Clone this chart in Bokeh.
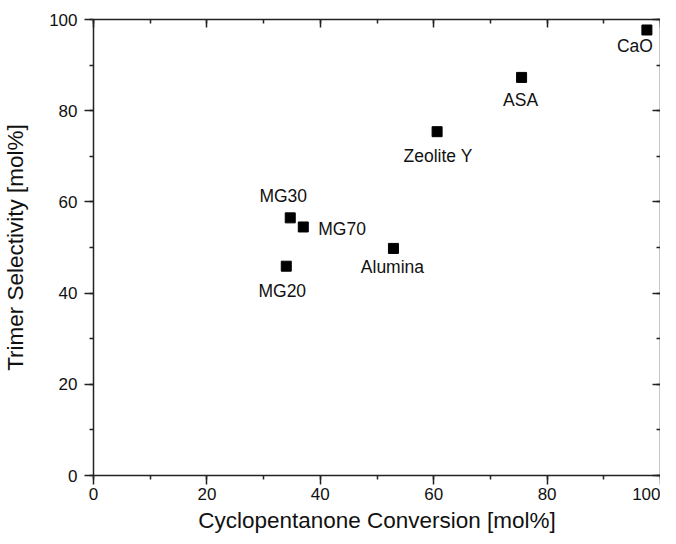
from bokeh.plotting import figure
from bokeh.models import ColumnDataSource, Range1d, LinearAxis, SingleIntervalTicker
from bokeh.core.properties import value
from bokeh.embed import file_html
from bokeh.resources import INLINE

catalysts = ["CaO", "ASA", "Zeolite Y", "MG30", "MG70", "Alumina", "MG20"]
conversion = [97.6, 75.5, 60.6, 34.7, 37.0, 52.9, 34.0]
selectivity = [97.7, 87.3, 75.4, 56.5, 54.5, 49.8, 45.9]

# label placement (screen pixel offsets relative to each point)
label_dx = [-12, -1, 1, -7, 15, -1, -4]
label_dy = [16, 23, 24, -22, 2, 19, 25]
label_align = ["center", "center", "center", "center", "left", "center", "center"]

FONT = "Liberation Sans"

p = figure(width=660, height=535, output_backend="svg", toolbar_location=None,
           x_range=Range1d(0, 100), y_range=Range1d(0, 100),
           x_axis_label="Cyclopentanone Conversion [mol%]",
           y_axis_label="Trimer Selectivity [mol%]",
           min_border_left=0, min_border_right=0, min_border_bottom=0, min_border_top=19)
p.outline_line_color = None
p.xgrid.visible = False
p.ygrid.visible = False
p.background_fill_color = "white"
p.border_fill_color = "white"

def style_axis(ax, labels=True):
    ax.ticker = SingleIntervalTicker(interval=20, num_minor_ticks=2)
    ax.axis_line_color = "#222222"
    ax.axis_line_width = 1.5
    ax.major_tick_line_color = "#222222"
    ax.minor_tick_line_color = "#222222"
    ax.major_tick_line_width = 1.5
    ax.minor_tick_line_width = 1.5
    ax.major_label_text_font = FONT
    ax.major_label_text_font_size = "17px"
    ax.major_label_text_color = "#111111"
    ax.axis_label_text_font = FONT
    ax.axis_label_text_font_size = "22.5px"
    ax.axis_label_text_font_style = "normal"
    ax.axis_label_text_color = "#111111"
    if labels:
        ax.major_tick_out = 9
        ax.major_tick_in = 0
        ax.minor_tick_out = 4
        ax.minor_tick_in = 0
    else:
        ax.major_tick_out = 0
        ax.major_tick_in = 8
        ax.minor_tick_out = 0
        ax.minor_tick_in = 4
        ax.major_label_text_font_size = "1px"
        ax.major_label_text_color = None
        ax.major_label_text_alpha = 0
        ax.axis_label_standoff = 0

for ax in p.xaxis:
    style_axis(ax)
    ax.major_label_standoff = 3
    ax.axis_label_standoff = 5
for ax in p.yaxis:
    style_axis(ax)
    ax.major_label_standoff = 7
    ax.axis_label_standoff = 18

top = LinearAxis()
style_axis(top, labels=False)
p.add_layout(top, "above")
right = LinearAxis()
style_axis(right, labels=False)
right.major_label_standoff = 8
p.add_layout(right, "right")

src = ColumnDataSource(dict(x=conversion, y=selectivity, name=catalysts,
                            dx=label_dx, dy=label_dy, align=label_align))
p.scatter("x", "y", source=src, marker="square", size=10,
          fill_color="black", line_color="black")
p.text("x", "y", text="name", source=src, x_offset="dx", y_offset="dy",
       text_align="align", text_baseline="middle",
       text_font=value(FONT), text_font_size="17.5px", text_color="#111111")

open("out.html", "w").write(file_html(p, INLINE))
